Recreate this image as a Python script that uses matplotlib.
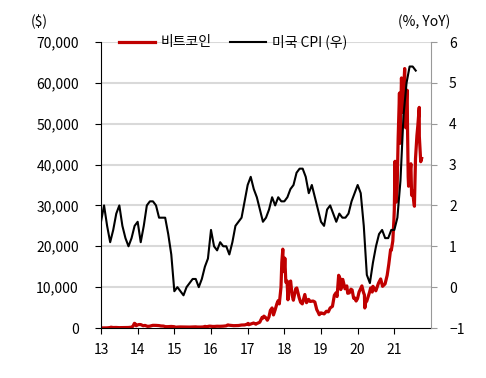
import matplotlib
matplotlib.use("Agg")
import matplotlib.pyplot as plt
import pandas as pd
import numpy as np

plt.rcParams['font.family'] = ['Noto Sans CJK KR', 'DejaVu Sans']

# US CPI YoY (%), monthly from Jan 2013
cpi_start = "2013-01-01"
cpi_values = [
    1.6, 2.0, 1.5, 1.1, 1.4, 1.8, 2.0, 1.5, 1.2, 1.0, 1.2, 1.5,
    1.6, 1.1, 1.5, 2.0, 2.1, 2.1, 2.0, 1.7, 1.7, 1.7, 1.3, 0.8,
    -0.1, 0.0, -0.1, -0.2, 0.0, 0.1, 0.2, 0.2, 0.0, 0.2, 0.5, 0.7,
    1.4, 1.0, 0.9, 1.1, 1.0, 1.0, 0.8, 1.1, 1.5, 1.6, 1.7, 2.1,
    2.5, 2.7, 2.4, 2.2, 1.9, 1.6, 1.7, 1.9, 2.2, 2.0, 2.2, 2.1,
    2.1, 2.2, 2.4, 2.5, 2.8, 2.9, 2.9, 2.7, 2.3, 2.5, 2.2, 1.9,
    1.6, 1.5, 1.9, 2.0, 1.8, 1.6, 1.8, 1.7, 1.7, 1.8, 2.1, 2.3,
    2.5, 2.3, 1.5, 0.3, 0.1, 0.6, 1.0, 1.3, 1.4, 1.2, 1.2, 1.4,
    1.4, 1.7, 2.6, 4.2, 5.0, 5.4, 5.4, 5.3,
]

# Bitcoin price ($)
btc_dates = [
    "2013-01-01", "2013-02-01", "2013-03-01", "2013-04-01", "2013-04-10", "2013-05-01", "2013-06-01",
    "2013-07-01", "2013-08-01", "2013-09-01", "2013-10-01", "2013-11-01", "2013-11-15", "2013-11-30",
    "2013-12-05", "2013-12-18", "2013-12-31",
    "2014-01-15", "2014-02-01", "2014-02-25", "2014-03-15", "2014-04-10", "2014-05-01", "2014-06-01",
    "2014-07-01", "2014-08-01", "2014-08-20", "2014-09-15", "2014-10-05", "2014-11-01", "2014-12-01", "2014-12-31",
    "2015-01-14", "2015-02-01", "2015-03-01", "2015-04-01", "2015-05-01", "2015-06-01", "2015-07-01",
    "2015-07-15", "2015-08-01", "2015-08-20", "2015-09-15", "2015-10-15", "2015-11-04", "2015-11-15",
    "2015-12-01", "2015-12-15", "2015-12-31",
    "2016-01-15", "2016-02-01", "2016-03-01", "2016-04-01", "2016-05-01", "2016-05-31", "2016-06-17",
    "2016-07-01", "2016-08-01", "2016-08-15", "2016-09-01", "2016-10-01", "2016-11-01", "2016-12-01", "2016-12-31",
    "2017-01-05", "2017-01-12", "2017-02-01", "2017-03-01", "2017-03-24", "2017-04-01", "2017-05-01",
    "2017-05-25", "2017-06-01", "2017-06-12", "2017-07-01", "2017-07-16", "2017-08-01", "2017-08-15",
    "2017-09-01", "2017-09-15", "2017-10-01", "2017-10-20", "2017-11-01", "2017-11-12", "2017-11-29",
    "2017-12-07", "2017-12-17", "2017-12-22", "2017-12-31",
    "2018-01-06", "2018-01-16", "2018-01-28", "2018-02-06", "2018-02-20", "2018-03-05", "2018-03-18",
    "2018-04-01", "2018-04-24", "2018-05-05", "2018-05-29", "2018-06-12", "2018-06-29", "2018-07-24",
    "2018-08-10", "2018-08-31", "2018-09-15", "2018-10-15", "2018-11-01", "2018-11-20", "2018-12-01",
    "2018-12-15", "2018-12-31",
    "2019-01-15", "2019-02-01", "2019-02-24", "2019-03-15", "2019-04-02", "2019-04-25", "2019-05-14",
    "2019-05-30", "2019-06-10", "2019-06-26", "2019-07-10", "2019-07-17", "2019-08-06", "2019-08-28",
    "2019-09-15", "2019-09-24", "2019-10-10", "2019-10-26", "2019-11-07", "2019-11-22", "2019-12-01",
    "2019-12-17", "2019-12-31",
    "2020-01-15", "2020-02-12", "2020-02-28", "2020-03-08", "2020-03-12", "2020-03-20", "2020-04-01",
    "2020-04-29", "2020-05-09", "2020-05-25", "2020-06-01", "2020-06-30", "2020-07-27", "2020-08-17",
    "2020-09-05", "2020-09-30", "2020-10-21", "2020-11-06", "2020-11-24", "2020-12-01", "2020-12-16",
    "2020-12-27", "2020-12-31",
    "2021-01-08", "2021-01-12", "2021-01-21", "2021-01-29", "2021-02-08", "2021-02-21", "2021-02-28",
    "2021-03-13", "2021-03-24", "2021-04-05", "2021-04-14", "2021-04-25", "2021-05-03", "2021-05-09",
    "2021-05-12", "2021-05-19", "2021-05-23", "2021-06-01", "2021-06-15", "2021-06-22", "2021-07-01",
    "2021-07-20", "2021-07-31", "2021-08-14", "2021-08-23", "2021-09-06", "2021-09-07", "2021-09-21",
    "2021-09-30",
]
btc_values = [
    13, 20, 34, 105, 200, 116, 129,
    88, 105, 140, 125, 205, 420, 1150,
    1100, 550, 750,
    850, 830, 550, 630, 400, 450, 650,
    640, 590, 500, 470, 330, 330, 380, 320,
    180, 230, 260, 245, 235, 225, 260,
    285, 280, 235, 230, 260, 400, 320,
    370, 450, 430,
    380, 375, 430, 415, 450, 530, 760,
    675, 610, 570, 575, 610, 730, 750, 960,
    1130, 800, 980, 1220, 930, 1080, 1400,
    2600, 2400, 2900, 2500, 1900, 2700, 4300,
    4900, 3200, 4400, 6000, 6700, 5900, 10000,
    16000, 19300, 13800, 14000,
    17100, 11200, 11500, 6900, 11200, 11500, 8200,
    6800, 9600, 9800, 7400, 6300, 5900, 8200,
    6200, 7000, 6500, 6600, 6350, 4500, 4000,
    3250, 3700,
    3600, 3450, 4100, 3950, 4900, 5300, 8000,
    8600, 7700, 12900, 12100, 9400, 11900, 9600,
    10300, 8500, 8600, 9500, 9300, 7300, 7400,
    6600, 7200,
    8800, 10300, 8700, 8100, 4900, 6200, 6600,
    8800, 9800, 8800, 10200, 9100, 11000, 12000,
    10200, 10800, 12900, 15600, 19200, 19000, 21300,
    26500, 29000,
    40800, 33000, 30800, 34300, 46400, 57500, 45200,
    61200, 52800, 59000, 63500, 49000, 57200, 58200,
    49700, 37000, 34700, 36700, 40200, 32500, 33500,
    29800, 41500, 47100, 49500, 54000, 46900, 40700,
    41500,
]

x_ticks = list(range(2013, 2022))
x_labels = [str(y % 100) for y in x_ticks]


def to_year(dates):
    d = pd.to_datetime(dates)
    return d.year + (d.dayofyear - 1) / 365.25


cpi_x = 2013 + np.arange(len(cpi_values)) / 12.0
btc_x = to_year(btc_dates)

fig = plt.figure(figsize=(4.86, 3.78), dpi=100)
ax = fig.add_axes([101 / 486, 1 - 328 / 378, 330 / 486, 286 / 378])
ax2 = ax.twinx()

ax.set_xlim(2013, 2022)
ax.set_ylim(0, 70000)
ax2.set_ylim(-1, 6)

for v in range(10000, 70001, 10000):
    ax.axhline(v, color='#d9d9d9', lw=1.5, zorder=0)

l1, = ax.plot(btc_x, btc_values, color='#c00000', lw=2.3, zorder=2)
l2, = ax2.plot(cpi_x, cpi_values, color='black', lw=1.5)

ax.set_yticks(range(0, 70001, 10000))
ax.set_yticklabels([f"{v:,}" for v in range(0, 70001, 10000)], fontsize=10)
ax.set_xticks(x_ticks)
ax.set_xticklabels(x_labels, fontsize=10)
ax2.set_yticks(range(-1, 7))
ax2.set_yticklabels([str(v) if v >= 0 else "\u22121" for v in range(-1, 7)], fontsize=10)

for a in (ax, ax2):
    a.spines['top'].set_visible(False)
ax.spines['left'].set_color('black')
ax.spines['bottom'].set_color('black')
ax2.spines['right'].set_color('#999999')
ax2.spines['left'].set_visible(False)
ax2.spines['bottom'].set_visible(False)
ax.spines['right'].set_visible(False)
ax.tick_params(axis='y', direction='out', length=4, color='black', pad=12)
ax.tick_params(axis='x', direction='out', length=4, color='black', pad=7)
ax2.tick_params(axis='y', direction='out', length=4, color='#999999', pad=9)

fig.text(31 / 486, 1 - 22 / 378, "($)", fontsize=10, va='center', ha='left')
fig.text(450 / 486, 1 - 22 / 378, "(%, YoY)", fontsize=10, va='center', ha='right')

leg = ax2.legend([l1, l2], ["비트코인", "미국 CPI (우)"], loc='center', bbox_to_anchor=(0.40, 1.0),
                 ncol=2, frameon=False, fontsize=10, handlelength=2.6, columnspacing=1.3,
                 handletextpad=0.4, borderaxespad=0)

fig.savefig("out.png", dpi=100)
